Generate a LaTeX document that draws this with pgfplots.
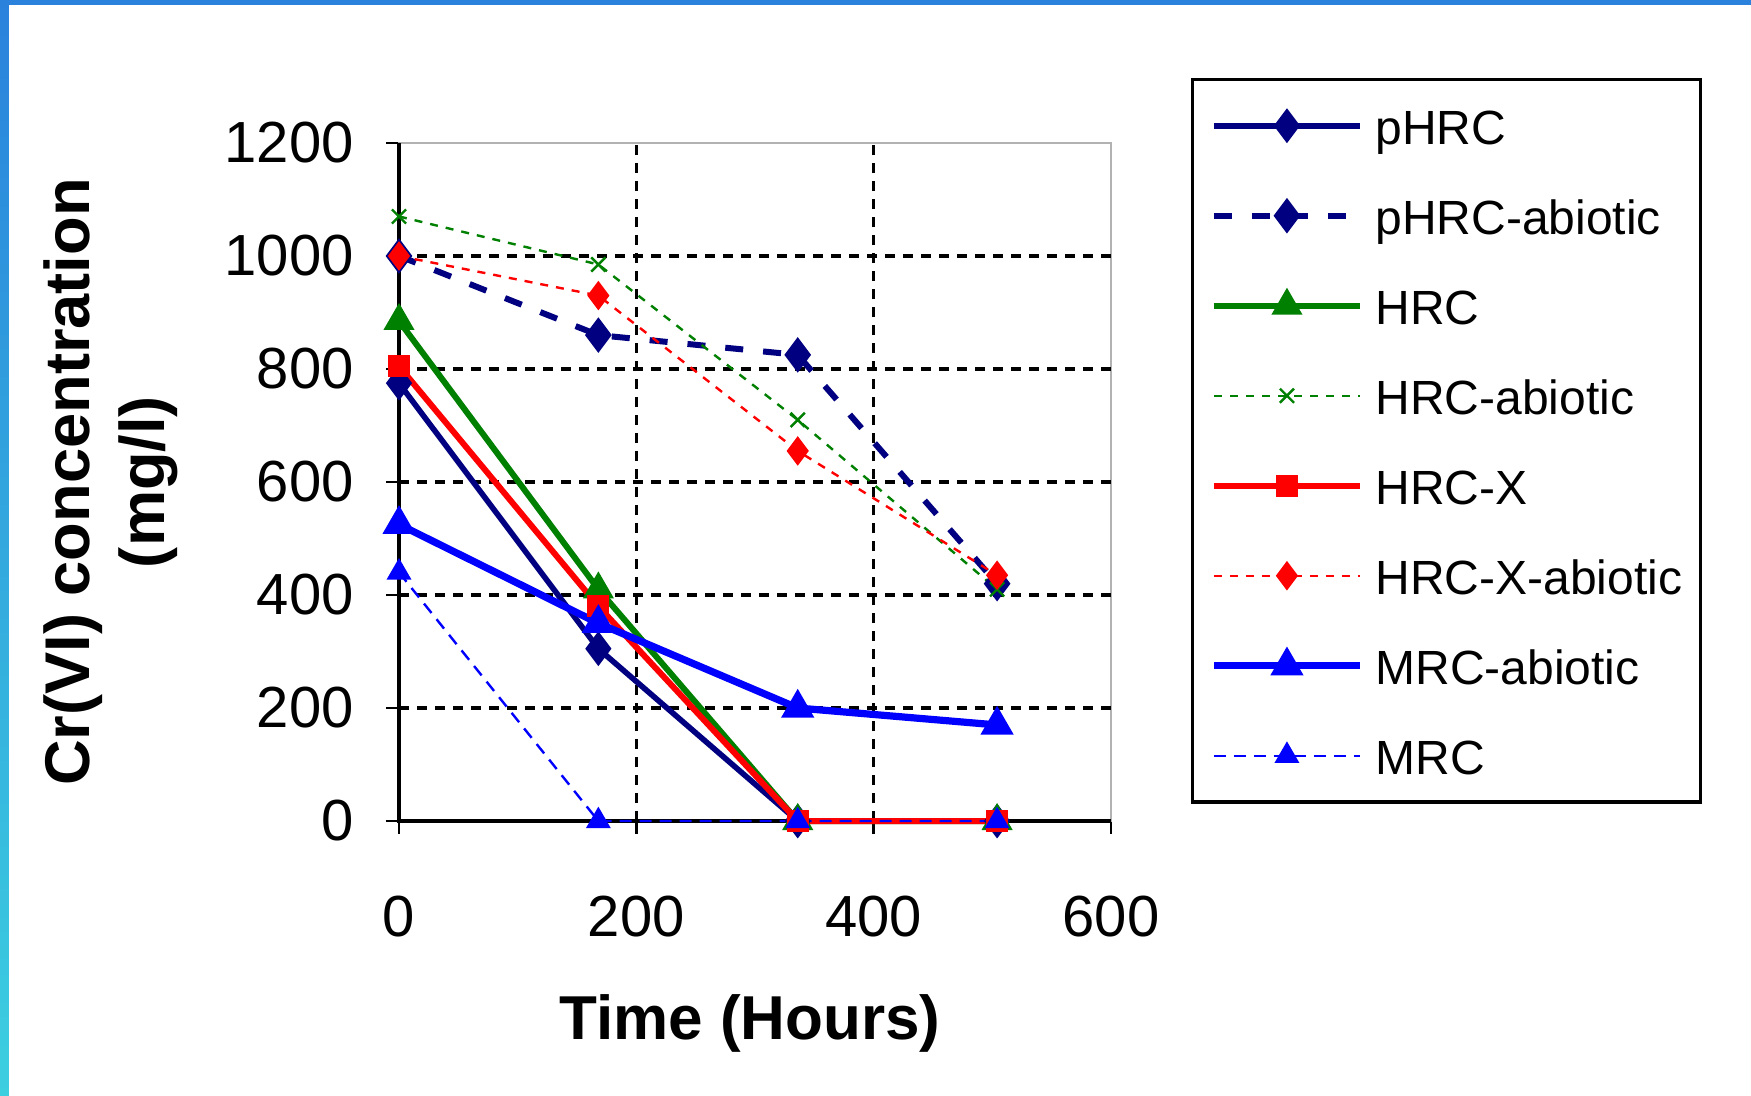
\documentclass[border=0pt]{standalone}
\usepackage{fontspec}
\setmainfont{Liberation Sans}
\usepackage{pgfplots}
\pgfplotsset{compat=1.18}
\definecolor{cnavy}{HTML}{000080}
\definecolor{cgreen}{HTML}{008000}
\definecolor{cred}{HTML}{FF0000}
\definecolor{cblue}{HTML}{0000FF}
\definecolor{frameblue}{HTML}{2A82DC}
\definecolor{framecyan}{HTML}{3CCFE0}
\begin{document}
\begin{tikzpicture}[x=1pt,y=1pt]
\useasboundingbox (0,0) rectangle (437.75,273.75);
\fill[white] (0,0) rectangle (437.75,273.75);
\shade[top color=frameblue, bottom color=framecyan] (0,0) rectangle (2.2,273.75);
\fill[frameblue] (0,272.6) rectangle (437.75,273.75);
\begin{axis}[
  at={(99.75pt,68.5pt)}, anchor=south west,
  scale only axis, width=178pt, height=169.5pt,
  xmin=0, xmax=600, ymin=0, ymax=1200,
  xtick={0,200,400,600}, ytick={0,200,400,600,800,1000,1200},
  tick pos=left, tick align=outside, major tick length=3.3pt,
  tick style={black, line width=0.7pt},
  axis line style={draw=gray!60, line width=0.7pt},
  clip=false,
  /pgf/number format/assume math mode=true,
  /pgf/number format/set thousands separator={},
  ticklabel style={font=\fontsize{14.5}{16}\selectfont},
  xticklabel style={yshift=-11.8pt},
  yticklabel style={xshift=-4.5pt},
  xlabel={Time (Hours)},
  xlabel style={at={(axis description cs:0.493,-0.298)}, anchor=center, font=\bfseries\fontsize{15.5}{18}\selectfont},
  ylabel={Cr(VI) concentration\\(mg/l)},
  ylabel style={at={(axis description cs:-0.405,0.5)}, anchor=center, rotate=0, align=center, font=\bfseries\fontsize{15.8}{18.75}\selectfont},
  legend style={at={(axis description cs:1.112,1.096)}, anchor=north west,
    draw=black, line width=0.8pt, fill=white,
    font=\fontsize{12}{15}\selectfont,
    inner xsep=4.5pt, inner ysep=3.8pt, row sep=7pt, column sep=3pt,
    nodes={inner sep=0pt, text height=12.5pt, text depth=3pt}},
  legend cell align=left,
  legend image code/.code={\draw[mark repeat=2,mark phase=2,#1] plot coordinates {(0pt,0pt) (18.25pt,0pt) (36.5pt,0pt)};},
]
\pgfplotsinvokeforeach{200,400,600,800,1000}{
  \draw[black, line width=0.9pt, dash pattern=on 2.5pt off 2pt] (axis cs:0,#1) -- (axis cs:600,#1);
}
\pgfplotsinvokeforeach{200,400}{
  \draw[black, line width=0.9pt, dash pattern=on 2.5pt off 2pt] (axis cs:#1,0) -- (axis cs:#1,1200);
}
\draw[black, line width=0.8pt] (axis cs:0,1200) -- (axis cs:0,0) -- (axis cs:600,0);

\addplot[cnavy, line width=1.4pt, mark=diamond*, mark size=3.2pt, mark options={solid}]
  coordinates {(0,775) (168,305) (336,0) (504,0)};
\addlegendentry{pHRC}
\addplot[cnavy, line width=1.5pt, dash pattern=on 4.5pt off 5pt, mark=diamond*, mark size=3.2pt, mark options={solid}]
  coordinates {(0,1000) (168,860) (336,825) (504,420)};
\addlegendentry{pHRC-abiotic}
\addplot[cgreen, line width=1.5pt, mark=triangle*, mark size=3pt, mark options={solid}]
  coordinates {(0,885) (168,410) (336,0) (504,0)};
\addlegendentry{HRC}
\addplot[cgreen, line width=0.6pt, dash pattern=on 2pt off 2pt, mark=x, mark size=2.5pt, mark options={solid}]
  coordinates {(0,1070) (168,985) (336,710) (504,410)};
\addlegendentry{HRC-abiotic}
\addplot[cred, line width=1.5pt, mark=square*, mark size=2pt, mark options={solid}]
  coordinates {(0,805) (168,380) (336,0) (504,0)};
\addlegendentry{HRC-X}
\addplot[cred, line width=0.6pt, dash pattern=on 2pt off 2pt, mark=diamond*, mark size=3.2pt, mark options={solid}]
  coordinates {(0,1000) (168,930) (336,655) (504,435)};
\addlegendentry{HRC-X-abiotic}
\addplot[cblue, line width=1.8pt, mark=triangle*, mark size=3pt, mark options={solid}]
  coordinates {(0,525) (168,350) (336,200) (504,170)};
\addlegendentry{MRC-abiotic}
\addplot[cblue, line width=0.6pt, dash pattern=on 3pt off 2pt, mark=triangle*, mark size=3pt, mark options={solid}]
  coordinates {(0,440) (168,0) (336,0) (504,0)};
\addlegendentry{MRC}
\end{axis}
\end{tikzpicture}
\end{document}
